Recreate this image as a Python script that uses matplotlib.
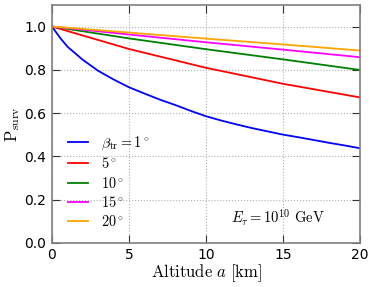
import matplotlib
matplotlib.use("Agg")
import matplotlib.pyplot as plt

plt.rcParams['mathtext.fontset'] = 'cm'

alt_blue = [0, 0.5, 1, 2, 3, 4, 5, 6, 7, 8, 9, 10, 11, 12, 13, 14, 15, 16, 17, 18, 19, 20]
p_1deg = [1.0, 0.95, 0.907, 0.846, 0.795, 0.755, 0.719, 0.69, 0.662, 0.637, 0.61, 0.585,
          0.565, 0.547, 0.53, 0.515, 0.50, 0.488, 0.475, 0.462, 0.45, 0.437]
alt = [0, 5, 10, 15, 20]
p_5deg = [1.0, 0.896, 0.809, 0.735, 0.672]
p_10deg = [1.0, 0.945, 0.895, 0.848, 0.799]
p_15deg = [1.0, 0.963, 0.927, 0.893, 0.858]
p_20deg = [1.0, 0.972, 0.944, 0.917, 0.889]

labels = [r'$\beta_{\rm tr}=1^\circ$', r'$5^\circ$', r'$10^\circ$', r'$15^\circ$', r'$20^\circ$']
colors = ['#0000ff', '#ff0000', '#008000', '#ff00ff', '#ffa500']

fig = plt.figure(figsize=(3.74, 2.87), dpi=100)
ax = fig.add_axes([0.139, 0.154, 0.824, 0.829])

series = [(alt_blue, p_1deg), (alt, p_5deg), (alt, p_10deg), (alt, p_15deg), (alt, p_20deg)]
for (x, y), lab, c in zip(series, labels, colors):
    ax.plot(x, y, color=c, lw=1.3, label=lab)

ax.set_xlim(0, 20)
ax.set_ylim(0, 1.1)
ax.set_xticks([0, 5, 10, 15, 20])
ax.set_yticks([0.0, 0.2, 0.4, 0.6, 0.8, 1.0])
ax.set_yticklabels(['0.0', '0.2', '0.4', '0.6', '0.8', '1.0'])
ax.grid(True, color='#b0b0b0', linestyle=':', linewidth=0.8)
ax.tick_params(direction='in', length=6, width=0.8, top=True, right=True, labelsize=10,
               color='#333333', pad=4)
for s in ax.spines.values():
    s.set_color('#808080')
    s.set_linewidth(1.2)

ax.set_xlabel(r'$\mathrm{Altitude}\ a\ [\mathrm{km}]$', fontsize=12, labelpad=0)
ax.set_ylabel(r'$\mathrm{P}_{\rm surv}$', fontsize=12, labelpad=2)

leg = ax.legend(loc='lower left', bbox_to_anchor=(0.01, 0.003), frameon=False, fontsize=10.3,
                handlelength=1.4, labelspacing=0.3, handletextpad=0.9)

ax.text(0.886, 0.104, r'$E_\tau = 10^{10}\ \mathrm{GeV}$', transform=ax.transAxes,
        ha='right', va='center', fontsize=10.5)

fig.savefig('out.png', dpi=100)
